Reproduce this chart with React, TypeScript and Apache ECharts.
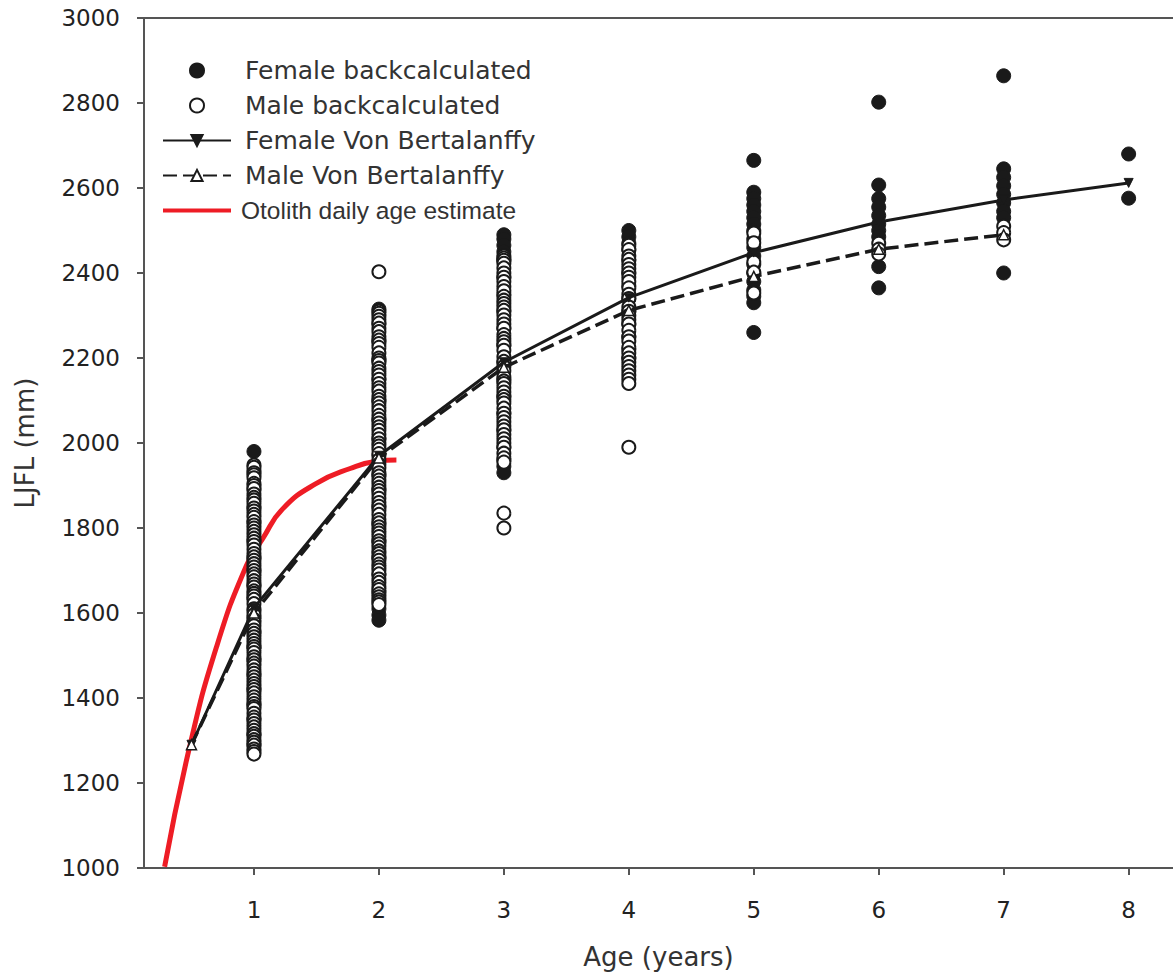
import React, { useEffect, useRef } from "react";
import * as echarts from "echarts";

// ---- Data ----
const ageTicks = [1, 2, 3, 4, 5, 6, 7, 8];

const femaleByAge: number[][] = [
  [1980, 1935, 1890, 1850, 1815, 1770, 1730, 1700, 1665, 1635, 1590, 1555, 1520, 1490, 1455, 1420, 1385, 1350, 1315, 1290],
  [2315, 2280, 2240, 2195, 2150, 2100, 2055, 2010, 1970, 1925, 1890, 1850, 1810, 1770, 1730, 1690, 1650, 1610, 1595, 1583],
  [2490, 2480, 2465, 2450, 2430, 2390, 2350, 2310, 2270, 2230, 2190, 2150, 2110, 2070, 2030, 1990, 1960, 1945, 1930],
  [2500, 2485, 2470, 2455, 2430, 2400, 2370, 2340, 2310, 2280, 2250, 2220, 2200],
  [2665, 2590, 2575, 2560, 2545, 2530, 2515, 2500, 2480, 2460, 2440, 2420, 2400, 2380, 2360, 2345, 2330, 2260],
  [2802, 2607, 2575, 2555, 2535, 2515, 2500, 2485, 2415, 2365],
  [2864, 2645, 2625, 2605, 2585, 2565, 2545, 2530, 2400],
  [2680, 2576],
];

const maleByAge: number[][] = [
  [1948, 1943, 1930, 1925, 1918, 1905, 1900, 1893, 1880, 1872, 1866, 1858, 1847, 1840, 1832, 1825, 1815, 1807, 1800, 1792, 1784, 1776, 1768, 1760, 1750, 1740, 1732, 1724, 1716, 1708, 1700, 1692, 1685, 1676, 1668, 1661, 1652, 1646, 1640, 1632, 1622, 1610, 1604, 1596, 1585, 1578, 1570, 1560, 1552, 1544, 1536, 1528, 1521, 1515, 1507, 1497, 1490, 1482, 1475, 1466, 1458, 1450, 1442, 1434, 1427, 1420, 1412, 1403, 1395, 1387, 1380, 1375, 1364, 1355, 1348, 1340, 1332, 1324, 1316, 1310, 1302, 1296, 1289, 1280, 1274, 1268],
  [2403, 2310, 2305, 2298, 2290, 2282, 2270, 2262, 2250, 2242, 2234, 2225, 2212, 2200, 2194, 2188, 2176, 2168, 2160, 2150, 2140, 2130, 2122, 2110, 2102, 2094, 2085, 2076, 2065, 2056, 2047, 2038, 2030, 2020, 2010, 2000, 1993, 1985, 1975, 1960, 1950, 1942, 1930, 1922, 1913, 1905, 1896, 1888, 1880, 1870, 1860, 1851, 1842, 1832, 1820, 1812, 1803, 1795, 1788, 1780, 1770, 1763, 1755, 1746, 1740, 1732, 1724, 1715, 1708, 1701, 1692, 1680, 1672, 1662, 1655, 1645, 1638, 1631, 1626, 1620],
  [2440, 2435, 2430, 2423, 2412, 2400, 2390, 2380, 2368, 2358, 2345, 2336, 2328, 2320, 2312, 2301, 2290, 2280, 2270, 2255, 2246, 2238, 2230, 2218, 2203, 2192, 2180, 2170, 2156, 2146, 2140, 2130, 2120, 2110, 2102, 2094, 2082, 2070, 2060, 2050, 2040, 2031, 2020, 2010, 2000, 1990, 1976, 1965, 1955, 1835, 1800],
  [2465, 2455, 2440, 2432, 2420, 2410, 2400, 2390, 2380, 2365, 2350, 2340, 2320, 2310, 2300, 2290, 2280, 2265, 2250, 2240, 2225, 2212, 2200, 2190, 2180, 2170, 2160, 2150, 2140, 1990],
  [2494, 2471, 2426, 2402, 2353],
  [2470, 2456, 2445],
  [2510, 2495, 2478],
  [],
];

const vbFemaleAges = [0.5, 1, 2, 3, 4, 5, 6, 7, 8];
const vbFemaleLen = [1290, 1612, 1970, 2190, 2342, 2448, 2520, 2572, 2612];
const vbMaleAges = [0.5, 1, 2, 3, 4, 5, 6, 7];
const vbMaleLen = [1290, 1600, 1965, 2178, 2312, 2392, 2456, 2490];

const otoAges = [0.285, 0.485, 0.7, 0.94, 1.07, 1.23, 1.5, 1.77, 1.98, 2.14];
const otoLen = [1003, 1285, 1520, 1712, 1775, 1845, 1905, 1940, 1957, 1960];

const FONT = "DejaVu Sans";
const INK = "#1a1a1a";

export default function App() {
  const ref = useRef<HTMLDivElement>(null);

  useEffect(() => {
    if (!ref.current) return;
    const chart = echarts.init(ref.current, undefined, { renderer: "svg" });

    const femaleData: number[][] = [];
    femaleByAge.forEach((vals, i) => vals.forEach((v) => femaleData.push([ageTicks[i], v])));
    const maleData: number[][] = [];
    maleByAge.forEach((vals, i) => vals.forEach((v) => maleData.push([ageTicks[i], v])));

    const xMin = 0.12;
    const xMax = 8.355;

    chart.setOption({
      animation: false,
      backgroundColor: "#ffffff",
      grid: { left: 144, top: 18, width: 1029, height: 850 },
      legend: {
        orient: "vertical",
        left: 162,
        top: 58,
        padding: 0,
        itemWidth: 68,
        itemHeight: 14,
        itemGap: 10,
        symbolKeepAspect: true,
        textStyle: {
          fontFamily: FONT,
          fontSize: 25,
          color: "#333",
          lineHeight: 22,
          padding: [0, 0, 0, 9],
        },
        data: [
          { name: "Female backcalculated" },
          { name: "Male backcalculated" },
          { name: "Female Von Bertalanffy" },
          { name: "Male Von Bertalanffy" },
          {
            name: "Otolith daily age estimate",
            icon: "path://M0,0L68,0L68,4L0,4Z",
            textStyle: {
              fontFamily: "Liberation Sans",
              fontSize: 24.5,
              color: "#333",
              lineHeight: 22,
              padding: [0, 0, 0, 5],
            },
          },
        ],
      },
      xAxis: [
        {
          type: "value",
          min: xMin,
          max: xMax,
          name: "Age (years)",
          nameLocation: "middle",
          nameGap: 76,
          nameTextStyle: { fontFamily: FONT, fontSize: 26, color: "#333" },
          axisLine: { show: true, lineStyle: { color: "#555", width: 2 } },
          axisTick: { show: true, length: 7, inside: false, customValues: ageTicks, lineStyle: { color: "#555", width: 2 } },
          axisLabel: { customValues: ageTicks, fontFamily: FONT, fontSize: 23, color: "#222", margin: 30 },
          splitLine: { show: false },
        },
        {
          type: "value",
          position: "top",
          min: xMin,
          max: xMax,
          axisLine: { show: true, lineStyle: { color: "#555", width: 2 } },
          axisTick: { show: false },
          axisLabel: { show: false },
          splitLine: { show: false },
        },
      ],
      yAxis: {
        type: "value",
        min: 1000,
        max: 3000,
        interval: 200,
        name: "LJFL (mm)",
        nameLocation: "middle",
        nameGap: 106,
        nameTextStyle: { fontFamily: FONT, fontSize: 26, color: "#333" },
        axisLine: { show: true, lineStyle: { color: "#555", width: 2 } },
        axisTick: { show: true, length: 7, inside: false, lineStyle: { color: "#555", width: 2 } },
        axisLabel: {
          fontFamily: FONT,
          fontSize: 23,
          color: "#222",
          margin: 24,
          formatter: (v: number) => String(v),
        },
        splitLine: { show: false },
      },
      series: [
        {
          name: "Otolith daily age estimate",
          type: "line",
          data: otoAges.map((a, i) => [a, otoLen[i]]),
          smooth: true,
          symbol: "none",
          lineStyle: { color: "#ee1c25", width: 5 },
          itemStyle: { color: "#ee1c25" },
          z: 1,
        },
        {
          name: "Female backcalculated",
          type: "scatter",
          data: femaleData,
          symbol: "circle",
          symbolSize: 14,
          itemStyle: { color: INK, borderColor: INK, borderWidth: 1, opacity: 1 },
          z: 2,
        },
        {
          name: "Male backcalculated",
          type: "scatter",
          data: maleData,
          symbol: "circle",
          symbolSize: 13,
          itemStyle: { color: "#ffffff", borderColor: INK, borderWidth: 2, opacity: 1 },
          z: 3,
        },
        {
          name: "Female Von Bertalanffy",
          type: "line",
          data: vbFemaleAges.map((a, i) => [a, vbFemaleLen[i]]),
          symbol: "triangle",
          symbolRotate: 180,
          symbolSize: 9,
          showAllSymbol: true,
          lineStyle: { color: INK, width: 3 },
          itemStyle: { color: INK, borderColor: INK, borderWidth: 1 },
          z: 4,
        },
        {
          name: "Male Von Bertalanffy",
          type: "line",
          data: vbMaleAges.map((a, i) => [a, vbMaleLen[i]]),
          symbol: "triangle",
          symbolSize: 10,
          showAllSymbol: true,
          lineStyle: { color: INK, width: 3.5, type: [14, 6] },
          itemStyle: { color: "#ffffff", borderColor: INK, borderWidth: 1.5 },
          z: 5,
        },
      ],
    });

    return () => chart.dispose();
  }, []);

  return (
    <div
      ref={ref}
      style={{ position: "absolute", left: 0, top: 0, width: 1173, height: 978, background: "#fff" }}
    />
  );
}
